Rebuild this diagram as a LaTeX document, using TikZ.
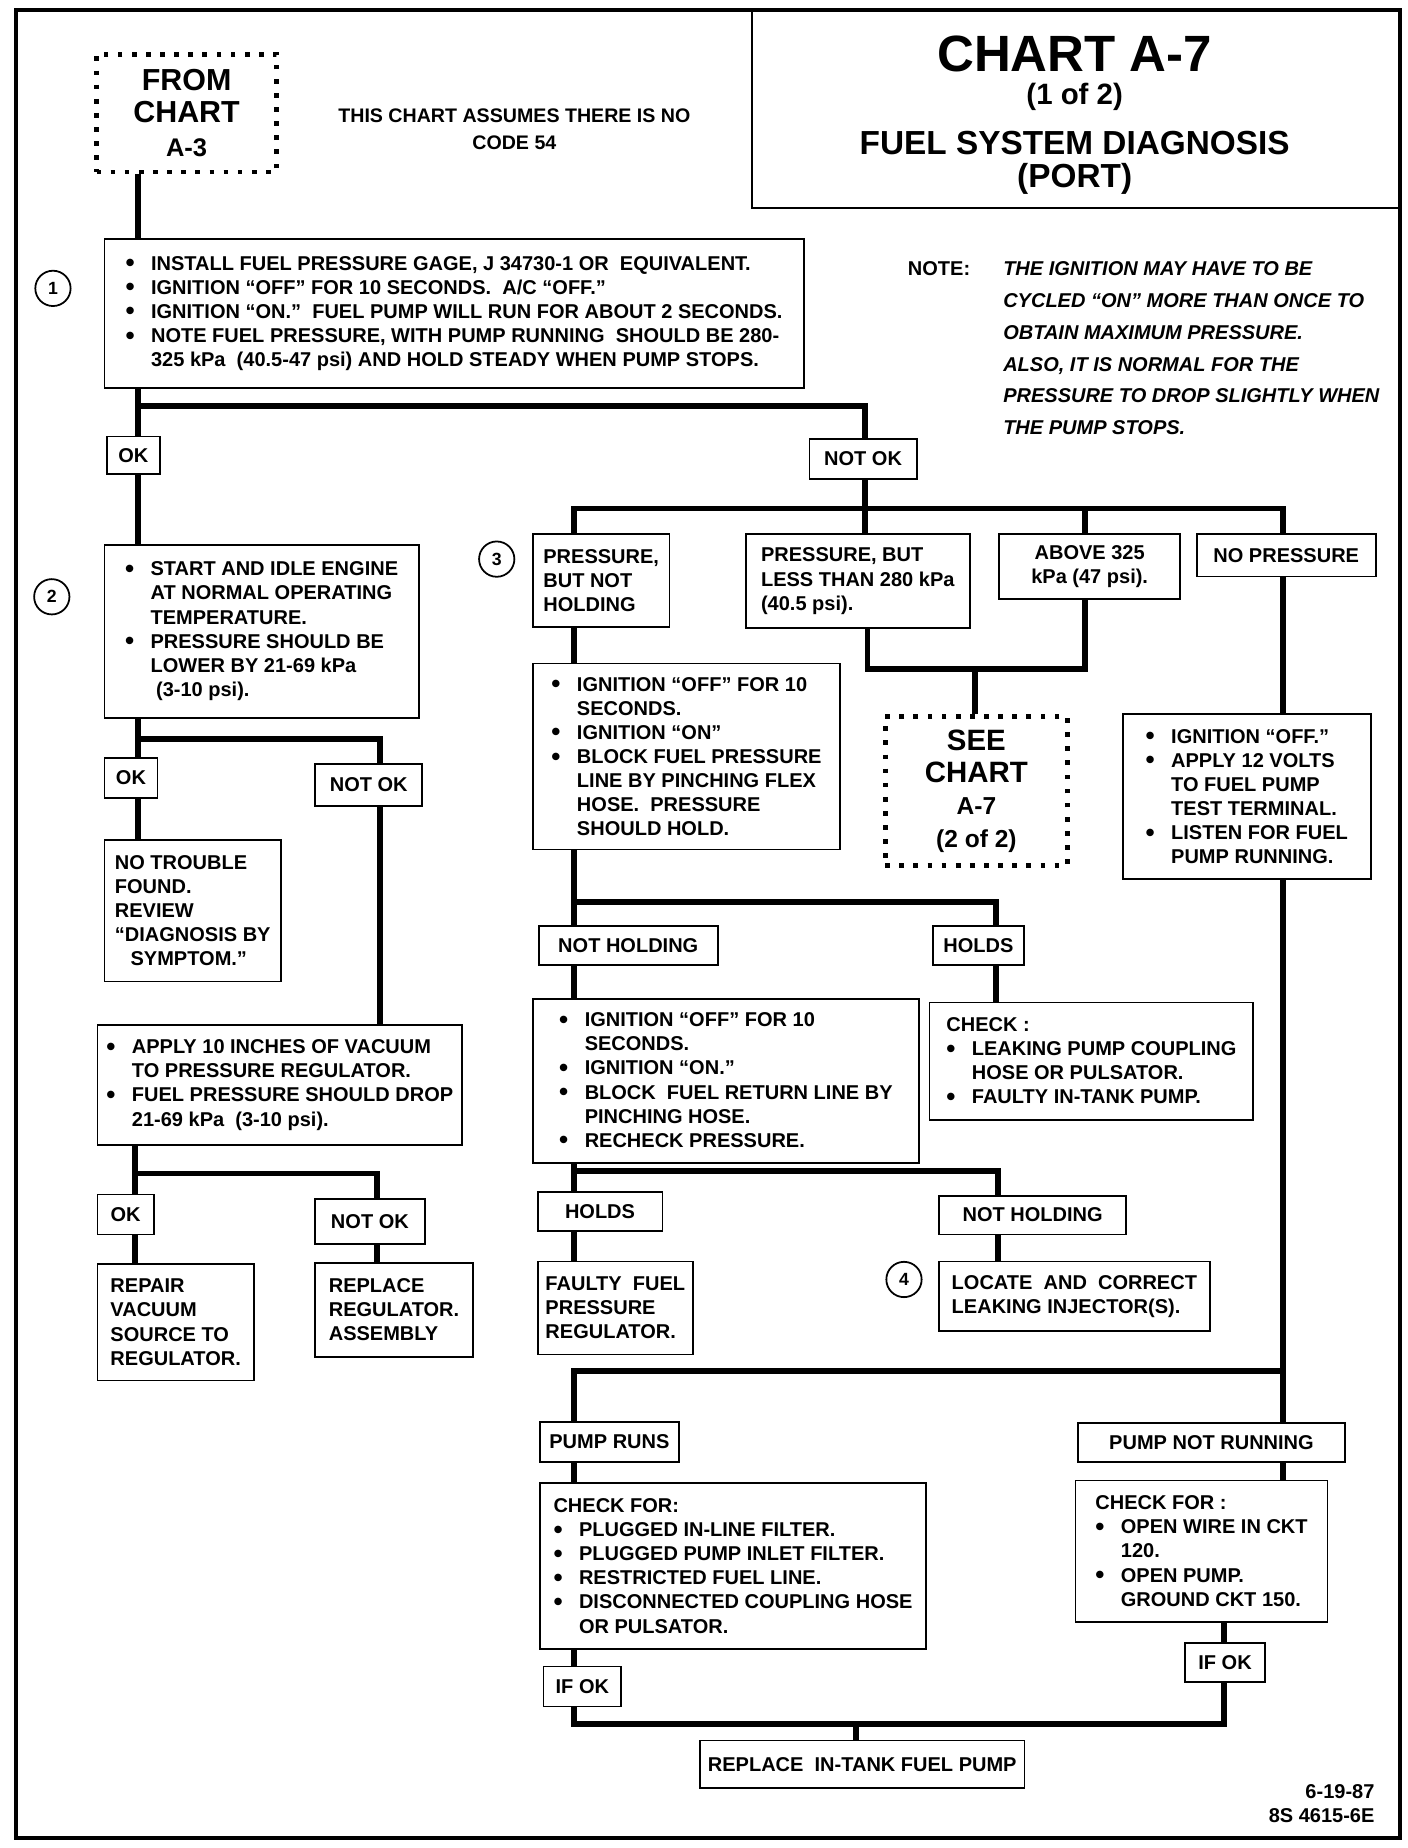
\documentclass[tikz,border=0pt]{standalone}
\usepackage{fontspec}
\setmainfont{Liberation Sans}
\usetikzlibrary{calc}
\newcommand\myb{\makebox[13pt][l]{\raisebox{-0.15ex}{\scalebox{1.3}{\textbullet}}}}
\newcommand\myi{\hspace*{13pt}}
\newcommand\mybox[7][]{\node[box,anchor=north west,minimum width={(#5-#3)*0.6pt},minimum height={(#6-#4)*0.6pt},#1] (#2) at (#3,#4) {#7};}
\tikzset{
 box/.style={draw, line width=0.9pt, align=left, inner xsep=4pt, inner ysep=2pt, font=\bfseries\fontsize{10.2}{12.3}\selectfont},
 lbl/.style={align=center},
 conn/.style={line width=3pt, line join=miter},
 dotbox/.style={line width=2.4pt, dash pattern=on 2.4pt off 4.8pt, align=center},
 circ/.style={circle, draw, line width=0.9pt, minimum size=18pt, inner sep=0pt, font=\bfseries\fontsize{9}{10}\selectfont},
 txt/.style={font=\bfseries\fontsize{10.2}{12.3}\selectfont, inner sep=0pt},
}
\begin{document}
\begin{tikzpicture}[x=0.6pt,y=-0.6pt]
\useasboundingbox (0,0) rectangle (1196,1570);
\node[draw,line width=1.8pt,anchor=north west,minimum width={1176*0.6pt},minimum height={1553*0.6pt}] (frame) at (12,7) {};
\mybox{title}{638}{7}{1188}{176}{}
\node[font=\bfseries\fontsize{26}{28}\selectfont] (t1) at (913,46) {CHART A-7};
\node[font=\bfseries\fontsize{15}{17}\selectfont] (t2) at (913,82) {(1 of 2)};
\node[font=\bfseries\fontsize{17}{16.8}\selectfont, align=center] (t3) at (913,138) {FUEL SYSTEM DIAGNOSIS\\(PORT)};

% from chart
\mybox[dotbox,font=\bfseries\fontsize{15.5}{16.5}\selectfont]{fromA}{80}{44}{233}{144}{FROM\\CHART\\[1pt]{\fontsize{13}{15}\selectfont A-3}}
\node[txt, align=center, font=\bfseries\fontsize{10}{13.8}\selectfont] (assume) at (437,110) {THIS CHART ASSUMES THERE IS NO\\CODE 54};

% note
\node[txt, anchor=west] (note) at (771,228) {NOTE:};
\node[txt, anchor=north west, align=left, font=\bfseries\itshape\fontsize{10.2}{16.2}\selectfont] (notetxt) at (852,222) {THE IGNITION MAY HAVE TO BE\\ CYCLED “ON” MORE THAN ONCE TO\\ OBTAIN MAXIMUM PRESSURE.\\ ALSO, IT IS NORMAL FOR THE\\ PRESSURE TO DROP SLIGHTLY WHEN\\ THE PUMP STOPS.};

% main boxes
\mybox{b1}{88}{202}{682}{329}{\myb INSTALL FUEL PRESSURE GAGE, J 34730-1 OR~ EQUIVALENT.\\ \myb IGNITION “OFF” FOR 10 SECONDS.~ A/C “OFF.”\\ \myb IGNITION “ON.”~ FUEL PUMP WILL RUN FOR ABOUT 2 SECONDS.\\ \myb NOTE FUEL PRESSURE, WITH PUMP RUNNING~ SHOULD BE 280-\\ \myi 325 kPa~ (40.5-47 psi) AND HOLD STEADY WHEN PUMP STOPS.}
\node[circ] (c1) at (45,245) {1};

\mybox[lbl]{ok1}{90}{370}{135}{402}{OK}
\mybox[lbl]{notok1}{687}{372}{778}{406}{NOT OK}

\mybox{b2}{88}{462}{355}{609}{\myb START AND IDLE ENGINE\\ \myi AT NORMAL OPERATING\\ \myi TEMPERATURE.\\ \myb PRESSURE SHOULD BE\\ \myi LOWER BY 21-69 kPa\\ \myi\ (3-10 psi).}
\node[circ] (c2) at (44,507) {2};

\mybox[lbl]{ok2}{88}{643}{133}{677}{OK}
\mybox[lbl]{notok2}{267}{648}{358}{684}{NOT OK}
\mybox{ntf}{88}{713}{238}{833}{NO TROUBLE\\FOUND.\\REVIEW\\“DIAGNOSIS BY\\\hspace*{8pt}SYMPTOM.”}
\mybox{apply}{82}{870}{392}{972}{\myb APPLY 10 INCHES OF VACUUM\\ \myi TO PRESSURE REGULATOR.\\ \myb FUEL PRESSURE SHOULD DROP\\ \myi 21-69 kPa~ (3-10 psi).}
\mybox[lbl]{ok3}{82}{1014}{130}{1048}{OK}
\mybox[lbl]{notok3}{267}{1018}{360}{1056}{NOT OK}
\mybox{repair}{82}{1073}{215}{1172}{REPAIR\\VACUUM\\SOURCE TO\\REGULATOR.}
\mybox{replreg}{267}{1072}{401}{1152}{REPLACE\\REGULATOR.\\ASSEMBLY}

% row 3
\mybox{pnh}{452}{453}{568}{532}{PRESSURE,\\BUT NOT\\HOLDING}
\node[circ] (c3) at (422,475) {3};
\mybox{plt}{633}{453}{823}{533}{PRESSURE, BUT\\LESS THAN 280 kPa\\(40.5 psi).}
\mybox[lbl]{ab}{848}{453}{1002}{508}{ABOVE 325\\kPa (47 psi).}
\mybox[lbl]{npres}{1016}{453}{1168}{489}{NO PRESSURE}

\mybox{ign1}{452}{563}{713}{721}{\myb IGNITION “OFF” FOR 10\\ \myi SECONDS.\\ \myb IGNITION “ON”\\ \myb BLOCK FUEL PRESSURE\\ \myi LINE BY PINCHING FLEX\\ \myi HOSE.~ PRESSURE\\ \myi SHOULD HOLD.}
\mybox[dotbox,font=\bfseries\fontsize{15}{16.5}\selectfont]{see}{750}{607}{905}{733}{SEE\\CHART\\{\fontsize{12.5}{14.5}\selectfont A-7}\\{\fontsize{12.5}{14.5}\selectfont (2 of 2)}}
\mybox{ign3}{953}{606}{1164}{746}{\myb IGNITION “OFF.”\\ \myb APPLY 12 VOLTS\\ \myi TO FUEL PUMP\\ \myi TEST TERMINAL.\\ \myb LISTEN FOR FUEL\\ \myi PUMP RUNNING.}

\mybox[lbl]{nh1}{457}{786}{609}{819}{NOT HOLDING}
\mybox[lbl]{holds1}{792}{786}{869}{819}{HOLDS}
\mybox{ign2}{452}{848}{780}{987}{\myb IGNITION “OFF” FOR 10\\ \myi SECONDS.\\ \myb IGNITION “ON.”\\ \myb BLOCK~ FUEL RETURN LINE BY\\ \myi PINCHING HOSE.\\ \myb RECHECK PRESSURE.}
\mybox{chk}{789}{851}{1064}{951}{CHECK :\\ \myb LEAKING PUMP COUPLING\\ \myi HOSE OR PULSATOR.\\ \myb FAULTY IN-TANK PUMP.}

\mybox[lbl]{holds2}{456}{1012}{562}{1045}{HOLDS}
\mybox[lbl]{nh2}{797}{1015}{956}{1048}{NOT HOLDING}
\mybox{faulty}{456}{1071}{576}{1150}{FAULTY~ FUEL\\PRESSURE\\REGULATOR.}
\mybox{locate}{797}{1071}{1027}{1130}{LOCATE~ AND~ CORRECT\\LEAKING INJECTOR(S).}
\node[circ] (c4) at (768,1087) {4};

\mybox[lbl]{pruns}{458}{1207}{576}{1241}{PUMP RUNS}
\mybox[lbl]{pnr}{915}{1208}{1142}{1241}{PUMP NOT RUNNING}
\mybox{chkf}{458}{1259}{786}{1400}{CHECK FOR:\\ \myb PLUGGED IN-LINE FILTER.\\ \myb PLUGGED PUMP INLET FILTER.\\ \myb RESTRICTED FUEL LINE.\\ \myb DISCONNECTED COUPLING HOSE\\ \myi OR PULSATOR.}
\mybox{chk2}{913}{1257}{1127}{1377}{CHECK FOR :\\ \myb OPEN WIRE IN CKT\\ \myi 120.\\ \myb OPEN PUMP.\\ \myi GROUND CKT 150.}
\mybox[lbl]{ifok1}{461}{1415}{527}{1449}{IF OK}
\mybox[lbl]{ifok2}{1006}{1395}{1074}{1428}{IF OK}
\mybox[lbl]{repl}{594}{1478}{860}{1518}{REPLACE~ IN-TANK FUEL PUMP}

\node[txt, anchor=north east, align=right] (foot) at (1168,1516) {6-19-87\\8S 4615-6E};

% junction coordinates
\coordinate (kL) at (117,345);
\coordinate (kR) at (735,432);
\coordinate (vA) at (488,432);
\coordinate (vC) at (922,432);
\coordinate (vD) at (1090,432);
\coordinate (kM) at (828,568);
\coordinate (vB) at (737,568);
\coordinate (vC2) at (922,568);
\coordinate (k2) at (117,628);
\coordinate (vR) at (323,628);
\coordinate (k3) at (115,997);
\coordinate (vS) at (320,997);
\coordinate (k4) at (488,766);
\coordinate (vH) at (846,766);
\coordinate (k5) at (488,995);
\coordinate (vN) at (848,995);
\coordinate (k6) at (1090,1165);
\coordinate (k6l) at (488,1165);
\coordinate (k7) at (727,1465);
\coordinate (k7l) at (488,1465);
\coordinate (k7r) at (1040,1465);

% connectors
\draw[conn] (fromA.south -| kL) -- (b1.north -| kL);
\draw[conn] (b1.south -| kL) -- (ok1.north -| kL);
\draw[conn] (ok1.south -| kL) -- (b2.north -| kL);
\draw[conn] (kL) -- (kL -| kR) -- (notok1.north -| kR);
\draw[conn] (notok1.south -| kR) -- (kR);
\draw[conn] (pnh.north -| vA) -- (vA) -- (vD) -- (npres.north -| vD);
\draw[conn] (kR) -- (plt.north -| kR);
\draw[conn] (vC) -- (ab.north -| vC);
\draw[conn] (plt.south -| vB) -- (vB) -- (vC2) -- (ab.south -| vC2);
\draw[conn] (kM) -- (see.north -| kM);
% left column
\draw[conn] (b2.south -| k2) -- (ok2.north -| k2);
\draw[conn] (ok2.south -| k2) -- (ntf.north -| k2);
\draw[conn] (k2) -- (vR) -- (notok2.north -| vR);
\draw[conn] (notok2.south -| vR) -- (apply.north -| vR);
\draw[conn] (apply.south -| k3) -- (ok3.north -| k3);
\draw[conn] (ok3.south -| k3) -- (repair.north -| k3);
\draw[conn] (k3) -- (vS) -- (notok3.north -| vS);
\draw[conn] (notok3.south -| vS) -- (replreg.north -| vS);
% middle column
\draw[conn] (pnh.south -| vA) -- (ign1.north -| vA);
\draw[conn] (ign1.south -| vA) -- (nh1.north -| vA);
\draw[conn] (nh1.south -| vA) -- (ign2.north -| vA);
\draw[conn] (k4) -- (vH) -- (holds1.north -| vH);
\draw[conn] (holds1.south -| vH) -- (chk.north -| vH);
\draw[conn] (ign2.south -| vA) -- (holds2.north -| vA);
\draw[conn] (holds2.south -| vA) -- (faulty.north -| vA);
\draw[conn] (k5) -- (vN) -- (nh2.north -| vN);
\draw[conn] (nh2.south -| vN) -- (locate.north -| vN);
% right column
\draw[conn] (npres.south -| vD) -- (ign3.north -| vD);
\draw[conn] (ign3.south -| vD) -- (pnr.north -| vD);
\draw[conn] (k6) -- (k6l) -- (pruns.north -| k6l);
\draw[conn] (pnr.south -| vD) -- (chk2.north -| vD);
\draw[conn] (pruns.south -| k6l) -- (chkf.north -| k6l);
\draw[conn] (chkf.south -| k6l) -- (ifok1.north -| k6l);
\draw[conn] (ifok1.south -| k6l) -- (k7l) -- (k7r) -- (ifok2.south -| k7r);
\draw[conn] (chk2.south -| k7r) -- (ifok2.north -| k7r);
\draw[conn] (k7) -- (repl.north -| k7);
\end{tikzpicture}
\end{document}
